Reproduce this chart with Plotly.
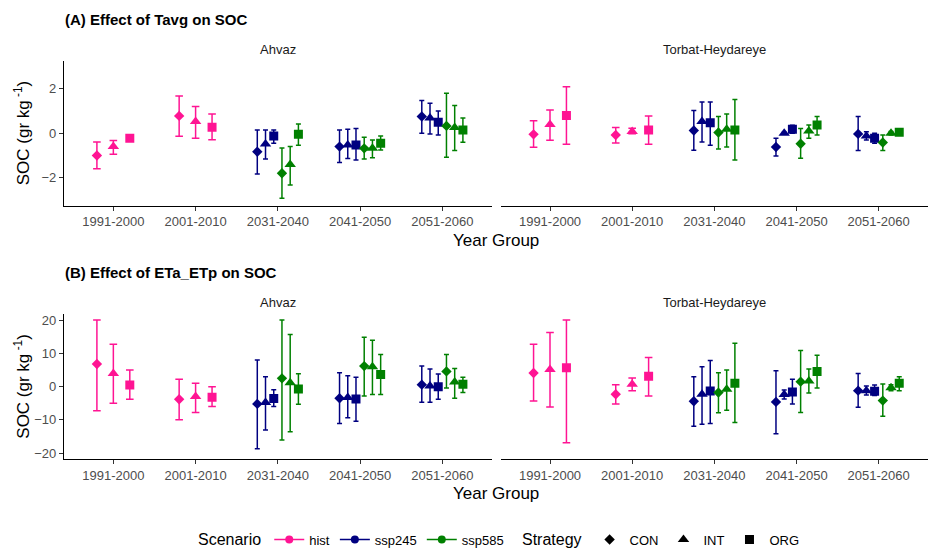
import plotly.graph_objects as go

# ---------------- data ----------------
year_groups = ["1991-2000", "2001-2010", "2031-2040", "2041-2050", "2051-2060"]
scenarios = ["hist", "ssp245", "ssp585"]
strategies = ["CON", "INT", "ORG"]
sites = ["Ahvaz", "Torbat-Heydareye"]

row_year = ["1991-2000", "1991-2000", "1991-2000",
            "2001-2010", "2001-2010", "2001-2010",
            "2031-2040", "2031-2040", "2031-2040", "2031-2040", "2031-2040", "2031-2040",
            "2041-2050", "2041-2050", "2041-2050", "2041-2050", "2041-2050", "2041-2050",
            "2051-2060", "2051-2060", "2051-2060", "2051-2060", "2051-2060", "2051-2060"]
row_scenario = ["hist", "hist", "hist",
                "hist", "hist", "hist",
                "ssp245", "ssp245", "ssp245", "ssp585", "ssp585", "ssp585",
                "ssp245", "ssp245", "ssp245", "ssp585", "ssp585", "ssp585",
                "ssp245", "ssp245", "ssp245", "ssp585", "ssp585", "ssp585"]
row_strategy = ["CON", "INT", "ORG",
                "CON", "INT", "ORG",
                "CON", "INT", "ORG", "CON", "INT", "ORG",
                "CON", "INT", "ORG", "CON", "INT", "ORG",
                "CON", "INT", "ORG", "CON", "INT", "ORG"]

# (A) Tavg - Ahvaz
tavg_ahvaz_mean = [-1.0, -0.6, -0.23, 0.78, 0.53, 0.27,
                   -0.83, -0.48, -0.12, -1.8, -1.41, -0.05,
                   -0.6, -0.53, -0.53, -0.68, -0.68, -0.45,
                   0.75, 0.68, 0.5, 0.33, 0.26, 0.15]
tavg_ahvaz_low = [-1.6, -0.95, -0.33, -0.14, -0.23, -0.29,
                  -1.83, -1.16, -0.45, -2.93, -2.33, -0.54,
                  -1.32, -1.14, -1.2, -1.16, -1.1, -0.75,
                  0.0, -0.03, -0.08, -1.08, -0.78, -0.4]
tavg_ahvaz_high = [-0.39, -0.33, -0.13, 1.67, 1.2, 0.87,
                   0.15, 0.15, 0.15, -0.66, -0.6, 0.42,
                   0.15, 0.18, 0.21, -0.18, -0.3, -0.12,
                   1.47, 1.35, 1.0, 1.8, 1.25, 0.68]

# (A) Tavg - Torbat-Heydareye
tavg_torbat_mean = [-0.05, 0.39, 0.8, -0.08, 0.08, 0.15,
                    0.12, 0.53, 0.47, 0.03, 0.18, 0.15,
                    -0.62, 0.0, 0.18, -0.47, 0.1, 0.37,
                    -0.03, -0.12, -0.23, -0.42, 0.0, 0.05]
tavg_torbat_low = [-0.63, -0.32, -0.5, -0.44, -0.02, -0.5,
                   -0.77, -0.39, -0.54, -0.71, -0.62, -1.2,
                   -1.02, -0.05, 0.0, -1.13, -0.23, -0.08,
                   -0.78, -0.3, -0.45, -0.78, -0.08, -0.05]
tavg_torbat_high = [0.56, 1.05, 2.09, 0.26, 0.22, 0.78,
                    1.02, 1.4, 1.41, 0.75, 0.86, 1.52,
                    -0.23, 0.05, 0.36, 0.21, 0.37, 0.75,
                    0.75, 0.07, 0.0, -0.08, 0.08, 0.12]

# (B) ETa_ETp - Ahvaz
etr_ahvaz_mean = [6.83, 4.0, 0.5, -3.8, -3.0, -3.2,
                  -5.2, -4.8, -3.6, 2.5, 1.2, -0.7,
                  -3.5, -3.3, -3.7, 6.2, 6.0, 3.7,
                  0.6, 0.2, 0.0, 4.6, 1.4, 0.7]
etr_ahvaz_low = [-7.24, -5.0, -3.8, -9.95, -7.8, -6.0,
                 -18.7, -13.1, -6.0, -16.1, -13.6, -5.3,
                 -11.1, -9.4, -10.4, -2.8, -2.4, -2.4,
                 -4.7, -4.7, -3.8, -0.4, -3.5, -1.8]
etr_ahvaz_high = [20.1, 12.8, 5.0, 2.2, 1.0, 0.0,
                  8.0, 3.0, -0.9, 20.1, 15.7, 3.9,
                  4.2, 3.3, 2.8, 14.9, 14.0, 9.7,
                  6.2, 5.3, 3.8, 9.7, 5.5, 2.8]

# (B) ETa_ETp - Torbat-Heydareye
etr_torbat_mean = [4.1, 5.2, 5.7, -2.3, 0.7, 3.1,
                   -4.4, -2.3, -1.3, -1.8, -0.8, 1.0,
                   -4.6, -2.4, -1.6, 1.5, 1.7, 4.6,
                   -1.2, -1.2, -1.4, -4.2, -0.3, 1.0]
etr_torbat_low = [-4.3, -6.1, -16.9, -5.2, -1.2, -2.8,
                  -11.9, -11.3, -11.1, -7.9, -7.1, -10.8,
                  -14.2, -3.7, -5.2, -7.8, -1.9, -0.4,
                  -6.2, -2.5, -2.7, -8.9, -1.2, -1.2]
etr_torbat_high = [12.8, 16.3, 20.1, 0.6, 2.6, 8.8,
                   3.0, 6.0, 7.9, 4.2, 5.0, 13.1,
                   4.8, -1.0, 2.2, 10.9, 5.3, 9.5,
                   4.0, 0.2, 0.5, 0.8, 0.6, 3.0]

yrange_tavg = [-3.26, 3.25]
yrange_etr = [-21.9, 21.9]
yticks_tavg = [-2, 0, 2]
yticks_etr = [-20, -10, 0, 10, 20]

# ---------------- style ----------------
colors = {"hist": "#FF1493", "ssp245": "#000080", "ssp585": "#008000"}
symbols = {"CON": "diamond", "INT": "triangle-up", "ORG": "square"}
msizes = {"CON": 8, "INT": 10, "ORG": 9}
capw = {"hist": 3.8, "ssp245": 2.5, "ssp585": 2.5}
FONT = "Liberation Sans, Arial, sans-serif"
DODGE = 0.6

W, H = 929, 551
def px_x(p):
    return p / W
def px_y(p):
    return 1 - p / H

col_dom = [[px_x(64), px_x(491.7)], [px_x(500.7), px_x(928)]]
row_dom = [[px_y(205.7), px_y(61)], [px_y(459.3), px_y(314)]]

# dodge positions
def dodge_positions():
    pos = []
    for i, yg in enumerate(row_year):
        members = [j for j, y in enumerate(row_year) if y == yg]
        n = len(members)
        k = members.index(i)
        pos.append(year_groups.index(yg) + 1 + (k - (n - 1) / 2) * DODGE / n)
    return pos

xpos = dodge_positions()

facets = [
    ("x", "y", tavg_ahvaz_mean, tavg_ahvaz_low, tavg_ahvaz_high),
    ("x2", "y2", tavg_torbat_mean, tavg_torbat_low, tavg_torbat_high),
    ("x3", "y3", etr_ahvaz_mean, etr_ahvaz_low, etr_ahvaz_high),
    ("x4", "y4", etr_torbat_mean, etr_torbat_low, etr_torbat_high),
]

fig = go.Figure()
for xa, ya, mean, low, high in facets:
    for sc in scenarios:
        for st in strategies:
            idx = [i for i in range(len(row_year)) if row_scenario[i] == sc and row_strategy[i] == st]
            if not idx:
                continue
            fig.add_trace(go.Scatter(
                x=[xpos[i] for i in idx],
                y=[mean[i] for i in idx],
                mode="markers",
                marker=dict(symbol=symbols[st], size=msizes[st], color=colors[sc], line=dict(width=0)),
                error_y=dict(type="data", symmetric=False,
                             array=[high[i] - mean[i] for i in idx],
                             arrayminus=[mean[i] - low[i] for i in idx],
                             color=colors[sc], thickness=1.5, width=capw[sc]),
                xaxis=xa, yaxis=ya, showlegend=False, hoverinfo="skip",
            ))

# legend entries
for sc in scenarios:
    fig.add_trace(go.Scatter(x=[None], y=[None], mode="lines+markers", name=sc,
                             line=dict(color=colors[sc], width=1.5),
                             marker=dict(color=colors[sc], size=8, symbol="circle"),
                             legend="legend", showlegend=True))
for st in strategies:
    fig.add_trace(go.Scatter(x=[None], y=[None], mode="markers", name=st,
                             marker=dict(color="black", size=msizes[st], symbol=symbols[st]),
                             legend="legend2", showlegend=True))

xax_common = dict(range=[0.4, 5.6], tickmode="array", tickvals=[1, 2, 3, 4, 5], ticktext=year_groups,
                  showline=True, linecolor="black", linewidth=1.2, ticks="outside", ticklen=4,
                  tickcolor="#333333", tickwidth=1.1, tickfont=dict(size=13, color="#4D4D4D", family=FONT),
                  showgrid=False, zeroline=False, fixedrange=True)
yax_left = dict(showline=True, linecolor="black", linewidth=1.2, ticks="outside", ticklen=4,
                tickcolor="#333333", tickwidth=1.1, tickfont=dict(size=13, color="#4D4D4D", family=FONT),
                showgrid=False, zeroline=False, tickmode="array", fixedrange=True)
yax_right = dict(showline=False, ticks="", showticklabels=False, showgrid=False, zeroline=False,
                 fixedrange=True)

layout = dict(
    width=W, height=H, margin=dict(l=0, r=0, t=0, b=0, autoexpand=False),
    paper_bgcolor="white", plot_bgcolor="white",
    font=dict(family=FONT, color="black"),
    xaxis=dict(domain=col_dom[0], anchor="y", **xax_common),
    xaxis2=dict(domain=col_dom[1], anchor="y2", **xax_common),
    xaxis3=dict(domain=col_dom[0], anchor="y3", **xax_common),
    xaxis4=dict(domain=col_dom[1], anchor="y4", **xax_common),
    yaxis=dict(domain=row_dom[0], anchor="x", range=yrange_tavg, tickvals=yticks_tavg, **yax_left),
    yaxis2=dict(domain=row_dom[0], anchor="x2", range=yrange_tavg, **yax_right),
    yaxis3=dict(domain=row_dom[1], anchor="x3", range=yrange_etr, tickvals=yticks_etr, **yax_left),
    yaxis4=dict(domain=row_dom[1], anchor="x4", range=yrange_etr, **yax_right),
    legend=dict(orientation="h", x=px_x(196), xanchor="left", y=px_y(540), yanchor="middle",
                title=dict(text="Scenario", font=dict(size=16, family=FONT)),
                font=dict(size=13, family=FONT), bgcolor="rgba(0,0,0,0)", itemwidth=30),
    legend2=dict(orientation="h", x=px_x(520), xanchor="left", y=px_y(540), yanchor="middle",
                 title=dict(text="Strategy", font=dict(size=16, family=FONT)),
                 font=dict(size=13, family=FONT), bgcolor="rgba(0,0,0,0)", itemwidth=30),
)
fig.update_layout(**layout)

ann = []
for title, ytop in [("(A) Effect of Tavg on SOC", 20), ("(B) Effect of ETa_ETp on SOC", 272)]:
    ann.append(dict(text="<b>" + title + "</b>", x=px_x(63), y=px_y(ytop), xref="paper", yref="paper",
                    xanchor="left", yanchor="middle", showarrow=False, font=dict(size=15, family=FONT)))
for ys in [49, 302]:
    for c, site in enumerate(sites):
        ann.append(dict(text=site, x=(col_dom[c][0] + col_dom[c][1]) / 2, y=px_y(ys), xref="paper", yref="paper",
                        xanchor="center", yanchor="middle", showarrow=False,
                        font=dict(size=13, family=FONT, color="#1A1A1A")))
for yy in [240, 493]:
    ann.append(dict(text="Year Group", x=px_x(496), y=px_y(yy), xref="paper", yref="paper",
                    xanchor="center", yanchor="middle", showarrow=False, font=dict(size=17, family=FONT)))
for yy in [133.3, 386.7]:
    ann.append(dict(text="SOC (gr kg<sup> -1</sup>)", x=px_x(22), y=px_y(yy), xref="paper", yref="paper",
                    xanchor="center", yanchor="middle", textangle=-90, showarrow=False,
                    font=dict(size=17, family=FONT)))
fig.update_layout(annotations=ann)

fig.write_html("out.html", config={"displayModeBar": False},
               post_script="document.body.style.margin='0';document.body.style.padding='0';")
